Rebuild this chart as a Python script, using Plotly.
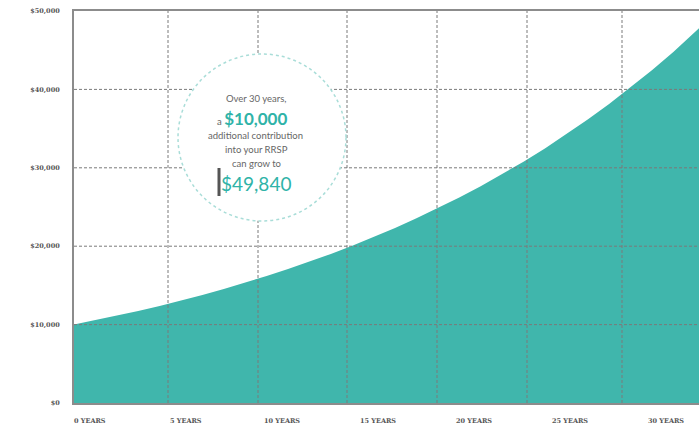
import plotly.graph_objects as go

# ---- data ----
years = list(range(0, 31))
values = [10000, 10550, 11130, 11742, 12388, 13070, 13788, 14547, 15347, 16191,
          17081, 18021, 19012, 20058, 21161, 22325, 23553, 24848, 26215, 27656,
          29178, 30782, 32475, 34262, 36146, 38134, 40231, 42444, 44778, 47241, 49840]
y_ticks = [0, 10000, 20000, 30000, 40000, 50000]
y_tick_text = ["$0", "$10,000", "$20,000", "$30,000", "$40,000", "$50,000"]
x_label_text = ["0 YEARS", "5 YEARS", "10 YEARS", "15 YEARS", "20 YEARS", "25 YEARS", "30 YEARS"]
h_grid = [10000, 20000, 30000, 40000]

W, H = 699, 428
L, T, B = 74, 11, 25
PW, PH = W - L, H - T - B

def px(x):
    return (x - L) / PW

def py(y):
    return (H - B - y) / PH

TEAL = "#40b6ac"
GRID = "#7a7a7a"
AXIS = "#8c8c8c"

fig = go.Figure()
fig.add_trace(go.Scatter(x=years, y=values, mode="lines", fill="tozeroy",
                         line=dict(width=0, color=TEAL), fillcolor=TEAL,
                         hoverinfo="skip", showlegend=False))

shapes = []
# vertical decorative grid lines
for gx in [168, 258, 347, 437, 527, 622]:
    shapes.append(dict(type="line", xref="paper", yref="paper", x0=px(gx), x1=px(gx), y0=0, y1=1,
                       line=dict(color=GRID, width=1, dash="3px,2px"), layer="above"))
# horizontal grid lines
for gy in h_grid:
    shapes.append(dict(type="line", xref="paper", yref="y", x0=0, x1=1, y0=gy, y1=gy,
                       line=dict(color=GRID, width=1, dash="3px,2px"), layer="above"))
# callout circle
shapes.append(dict(type="circle", xref="paper", yref="paper",
                   x0=px(178), x1=px(346), y0=py(221), y1=py(54),
                   fillcolor="white", line=dict(color="#a9ddd8", width=1.5, dash="dot"),
                   layer="above"))
# bar next to amount
shapes.append(dict(type="line", xref="paper", yref="paper", x0=px(219), x1=px(219),
                   y0=py(196), y1=py(168), line=dict(color="#555555", width=3), layer="above"))

TXT = "#666666"
FONT = "Lato"
ann = []
def add_text(txt, x, y, size, color=TXT, family=FONT):
    ann.append(dict(text=txt, xref="paper", yref="paper", x=px(x), y=py(y),
                    xanchor="center", yanchor="middle", showarrow=False,
                    font=dict(family=family, size=size, color=color)))

add_text("Over 30 years,", 256, 98, 9.5)
add_text("a <span style='font-size:17px;color:#2fb3a8'><b>$10,000</b></span>", 252, 118, 9.5)
add_text("additional contribution", 255, 135, 9.5)
add_text("into your RRSP", 256, 149, 9.5)
add_text("can grow to", 256, 163, 9.5)
add_text("$49,840", 256, 183, 19, "#2fb3a8")

# x-axis labels (infographic spacing, not tied to grid)
for i, lab in enumerate(x_label_text):
    ann.append(dict(text="<b>" + lab + "</b>", xref="paper", yref="paper",
                    x=px(89.5 + 96.1 * i), y=py(421), xanchor="center", yanchor="middle",
                    showarrow=False,
                    font=dict(family="DejaVu Serif", size=6.5, color="#555555")))

fig.update_layout(
    width=W, height=H,
    margin=dict(l=L, r=0, t=T, b=B),
    paper_bgcolor="white", plot_bgcolor="white",
    shapes=shapes, annotations=ann,
    xaxis=dict(range=[0, 29.2], showgrid=False, zeroline=False, showticklabels=False,
               showline=True, linecolor=AXIS, linewidth=2, mirror=True, ticks=""),
    yaxis=dict(range=[0, 50000], tickvals=y_ticks, ticktext=y_tick_text,
               showgrid=False, zeroline=False, showline=True, linecolor=AXIS, linewidth=2,
               ticks="", ticklabelstandoff=11,
               tickfont=dict(family="DejaVu Serif", size=6.5, color="#555555", weight="bold")),
)

fig.write_html("out.html")
